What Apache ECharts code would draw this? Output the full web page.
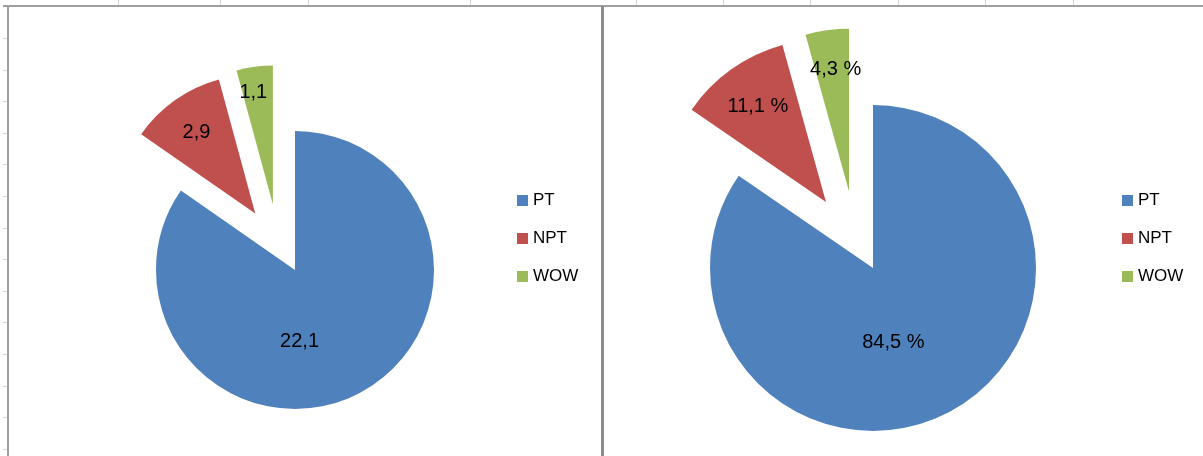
<!DOCTYPE html>
<html><head><meta charset="utf-8">
<script src="https://cdn.jsdelivr.net/npm/echarts@6/dist/echarts.min.js"></script>
<style>html,body{margin:0;padding:0;background:#fff}#chart{width:1203px;height:456px}</style>
</head><body><div id="chart"></div>
<script>
// ---- data ----
const categories = ['PT', 'NPT', 'WOW'];
const hoursValues = [22.1, 2.9, 1.1];
const percentValues = [84.5, 11.1, 4.3];
const explodedSlices = ['NPT', 'WOW'];
const colors = ['#4F81BD', '#C0504D', '#9BBB59'];

// ---- helpers ----
const fmt = v => v.toFixed(1).replace('.', ',');
function buildData(values, shown) {
  return categories.map((n, i) => {
    const item = { name: n, value: values[i], selected: explodedSlices.includes(n) };
    if (!shown.includes(n)) { item.itemStyle = { opacity: 0 }; item.label = { show: false }; }
    return item;
  });
}

// decorative frame (spreadsheet border + ruler ticks)
const frame = [];
const gridColor = '#d4d4d4';
[118, 220, 308, 470, 636, 723, 810, 898, 985, 1073].forEach(x => frame.push({
  type: 'line', silent: true, shape: { x1: x + 0.5, y1: 0, x2: x + 0.5, y2: 5 }, style: { stroke: gridColor, lineWidth: 1 }
}));
for (let k = 0; k < 14; k++) {
  const y = Math.round(38 + k * 31.6) + 0.5;
  frame.push({ type: 'line', silent: true, shape: { x1: 3, y1: y, x2: 8, y2: y }, style: { stroke: gridColor, lineWidth: 1 } });
}
frame.push({ type: 'line', silent: true, shape: { x1: 3, y1: 6, x2: 1203, y2: 6 }, style: { stroke: '#a0a0a0', lineWidth: 2 } });
frame.push({ type: 'line', silent: true, shape: { x1: 8, y1: 6, x2: 8, y2: 456 }, style: { stroke: '#a0a0a0', lineWidth: 2 } });
frame.push({ type: 'line', silent: true, shape: { x1: 602.5, y1: 6, x2: 602.5, y2: 456 }, style: { stroke: '#8c8c8c', lineWidth: 3 } });

const FONT = 'Liberation Sans, Arial, sans-serif';
const legendBase = {
  orient: 'vertical', icon: 'rect', itemWidth: 11, itemHeight: 11, itemGap: 21,
  data: categories, selectedMode: false,
  itemStyle: { opacity: 1, borderWidth: 0 },
  textStyle: { color: '#000', fontSize: 17, lineHeight: 17, fontFamily: FONT }
};

function pieSeries(values, center, radius, offset, shown, shifts, suffix) {
  return {
    type: 'pie', center: center, radius: radius,
    startAngle: 90, clockwise: true, avoidLabelOverlap: false,
    selectedMode: 'multiple', selectedOffset: offset,
    itemStyle: { borderWidth: 0 },
    emphasis: { disabled: true },
    label: { show: true, position: 'inside', color: '#000', fontSize: 20, fontFamily: FONT,
             formatter: p => fmt(p.value) + suffix },
    labelLine: { show: false },
    labelLayout: p => { const s = shifts[p.dataIndex] || [0, 0]; return { dx: s[0], dy: s[1] }; },
    data: buildData(values, shown)
  };
}

const chart = echarts.init(document.getElementById('chart'), null, { renderer: 'canvas' });
chart.setOption({
  animation: false,
  backgroundColor: '#ffffff',
  color: colors,
  graphic: { elements: frame },
  legend: [
    Object.assign({ left: 512, top: 187 }, legendBase),
    Object.assign({ left: 1117, top: 187 }, legendBase)
  ],
  series: [
    // left chart: PT + NPT, and WOW exploded along Excel's direction
    pieSeries(hoursValues, [295, 270], 139, 69, ['PT', 'NPT'], [[-29, 7], [-17, -22], [0, 0]], ''),
    pieSeries(hoursValues, [282, 273], 139, 69, ['WOW'], [[0, 0], [0, 0], [-10, -40]], ''),
    // right chart
    pieSeries(percentValues, [873, 268], 163, 81, ['PT', 'NPT'], [[-19, 0], [-19, -27], [0, 0]], ' %'),
    pieSeries(percentValues, [860, 272], 163, 81, ['WOW'], [[0, 0], [0, 0], [-2, -39]], ' %')
  ]
});
</script>
</body></html>
